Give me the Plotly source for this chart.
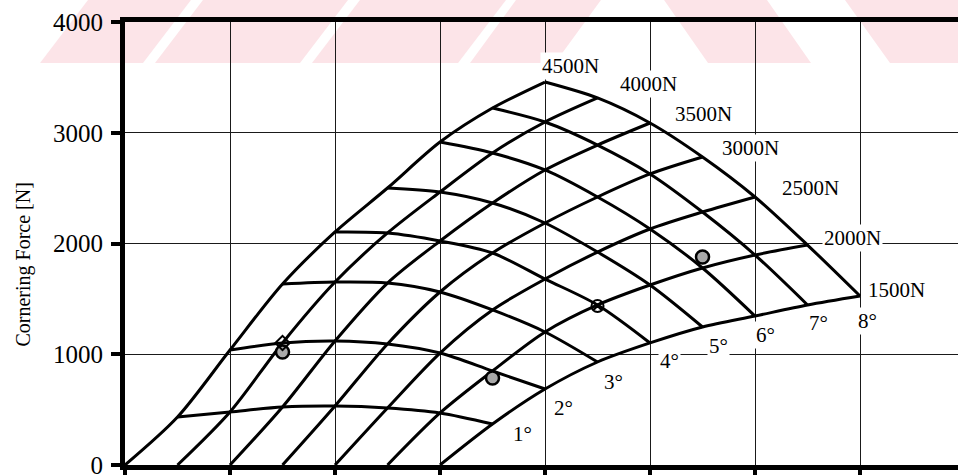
import plotly.graph_objects as go

# Carpet grid: slip angle (deg) x wheel load (N) -> cornering force (N)
slip_deg = [1, 2, 3, 4, 5, 6, 7, 8]
loads_N = [4500, 4000, 3500, 3000, 2500, 2000, 1500]

# one row per slip angle, columns follow loads_N
force_1deg = [433, 479, 524, 533, 515, 470, 370]
force_2deg = [1038, 1102, 1120, 1093, 1011, 849, 686]
force_3deg = [1634, 1652, 1643, 1562, 1400, 1201, 930]
force_4deg = [2104, 2095, 2023, 1914, 1679, 1445, 1102]
force_5deg = [2501, 2465, 2366, 2185, 1923, 1625, 1246]
force_6deg = [2916, 2817, 2664, 2420, 2131, 1779, 1345]
force_7deg = [3223, 3097, 2889, 2628, 2284, 1896, 1445]
force_8deg = [3458, 3314, 3088, 2781, 2420, 1986, 1526]
force_rows = [force_1deg, force_2deg, force_3deg, force_4deg,
              force_5deg, force_6deg, force_7deg, force_8deg]

# measured points (slip, load, force)
meas_slip = [2, 2, 6]
meas_load = [4000, 2000, 2000]
meas_force = [1020, 786, 1878]

# check point drawn as a crossed circle
check_slip = [4]
check_load = [2000]
check_force = [1436]

# model value marked with an open diamond
model_slip = [2]
model_load = [4000]
model_force = [1102]

y_ticks = [0, 1000, 2000, 3000, 4000]

SERIF = "Liberation Serif, Times New Roman, serif"
LINE = dict(color="black", width=3, shape="spline", smoothing=0.85)


def carpet_x(slip, load):
    """Cheater-plot abscissa: half a unit per degree and per 500 N step."""
    return 0.5 * slip + 0.5 * (loads_N[0] - load) / 500.0


fig = go.Figure()

# constant-load lines, starting from zero force at zero slip
for j, load in enumerate(loads_N):
    xs = [carpet_x(0, load)] + [carpet_x(s, load) for s in slip_deg]
    ys = [0] + [row[j] for row in force_rows]
    fig.add_trace(go.Scatter(x=xs, y=ys, mode="lines", line=LINE,
                             hoverinfo="skip"))

# constant-slip lines
for i, s in enumerate(slip_deg):
    xs = [carpet_x(s, load) for load in loads_N]
    fig.add_trace(go.Scatter(x=xs, y=force_rows[i], mode="lines", line=LINE,
                             hoverinfo="skip"))

# measured points
fig.add_trace(go.Scatter(
    x=[carpet_x(s, l) for s, l in zip(meas_slip, meas_load)], y=meas_force,
    mode="markers",
    marker=dict(symbol="circle", size=13, color="#a9a9a9",
                line=dict(color="black", width=2.5)),
    hoverinfo="skip"))
fig.add_trace(go.Scatter(
    x=[carpet_x(s, l) for s, l in zip(check_slip, check_load)], y=check_force,
    mode="markers",
    marker=dict(symbol="circle-x-open", size=12, color="black",
                line=dict(width=2)),
    hoverinfo="skip"))
fig.add_trace(go.Scatter(
    x=[carpet_x(s, l) for s, l in zip(model_slip, model_load)], y=model_force,
    mode="markers",
    marker=dict(symbol="diamond-open", size=11, color="black",
                line=dict(width=2)),
    hoverinfo="skip"))

# load labels beside the 8 deg line, slip labels under the 1500 N line
load_label_shift = [(25, 16), (51, 14), (53, 9), (48, 9), (55, 9), (45, 7), (36, 6)]
slip_label_shift = [(30, -10), (18, -19), (16, -20), (19, -18),
                    (16, -19), (10, -19), (11, -18), (7, -25)]
annotations = []
for j, load in enumerate(loads_N):
    dx, dy = load_label_shift[j]
    annotations.append(dict(
        x=carpet_x(slip_deg[-1], load), y=force_rows[-1][j],
        text=f"{load}N", showarrow=False, xshift=dx, yshift=dy,
        font=dict(family=SERIF, size=21, color="black"),
        bgcolor="white", borderpad=1))
for i, s in enumerate(slip_deg):
    dx, dy = slip_label_shift[i]
    annotations.append(dict(
        x=carpet_x(s, loads_N[-1]), y=force_rows[i][-1],
        text=f"{s}°", showarrow=False, xshift=dx, yshift=dy,
        font=dict(family=SERIF, size=21, color="black"),
        bgcolor="white", borderpad=1))

# axis title
annotations.append(dict(
    xref="paper", yref="paper", x=-0.1224, y=0.4526,
    text="Cornering Force [N]", textangle=-90, showarrow=False,
    xanchor="center", yanchor="middle",
    font=dict(family=SERIF, size=20, color="black")))

# light diagonal banding across the top of the page
L, W, T, H = 125.0, 833.0, 22.0, 443.0


def to_paper(px, py):
    return (px - L) / W, (T + H - py) / H


def band(x0, x1, slant, y_top=0.0, y_bot=63.0):
    pts = [to_paper(x0, y_bot), to_paper(x1, y_bot),
           to_paper(x1 + slant, y_top), to_paper(x0 + slant, y_top)]
    path = "M " + " L ".join(f"{a:.4f},{b:.4f}" for a, b in pts) + " Z"
    return dict(type="path", xref="paper", yref="paper", path=path,
                fillcolor="#fce4e8", line=dict(width=0), layer="below")


shapes = [band(40, 143, 48), band(155, 300, 48), band(312, 458, 48),
          band(470, 555, 46), band(708, 811, -44), band(890, 1010, -45)]

fig.update_layout(
    width=958, height=475,
    margin=dict(l=125, r=0, t=22, b=10, autoexpand=False),
    paper_bgcolor="white", plot_bgcolor="rgba(0,0,0,0)",
    showlegend=False,
    font=dict(family=SERIF, color="black"),
    annotations=annotations,
    shapes=shapes,
)
fig.update_xaxes(
    range=[0, 7.933], tick0=0, dtick=1, showticklabels=False,
    showgrid=True, gridcolor="#1a1a1a", gridwidth=1.2,
    ticks="outside", ticklen=7, tickwidth=4, tickcolor="black",
    showline=True, linecolor="black", linewidth=5, mirror=True,
    zeroline=False, fixedrange=True, automargin=False)
fig.update_yaxes(
    range=[0, 4000], tickvals=y_ticks, ticktext=[str(v) for v in y_ticks],
    tickfont=dict(family=SERIF, size=25, color="black"),
    showgrid=True, gridcolor="#1a1a1a", gridwidth=1.2,
    ticks="outside", ticklen=9, tickwidth=4, tickcolor="black",
    ticklabelstandoff=3, ticklabeloverflow="allow",
    showline=True, linecolor="black", linewidth=5, mirror=False,
    zeroline=False, fixedrange=True, automargin=False)

fig.write_html("out.html", config={"displayModeBar": False})
